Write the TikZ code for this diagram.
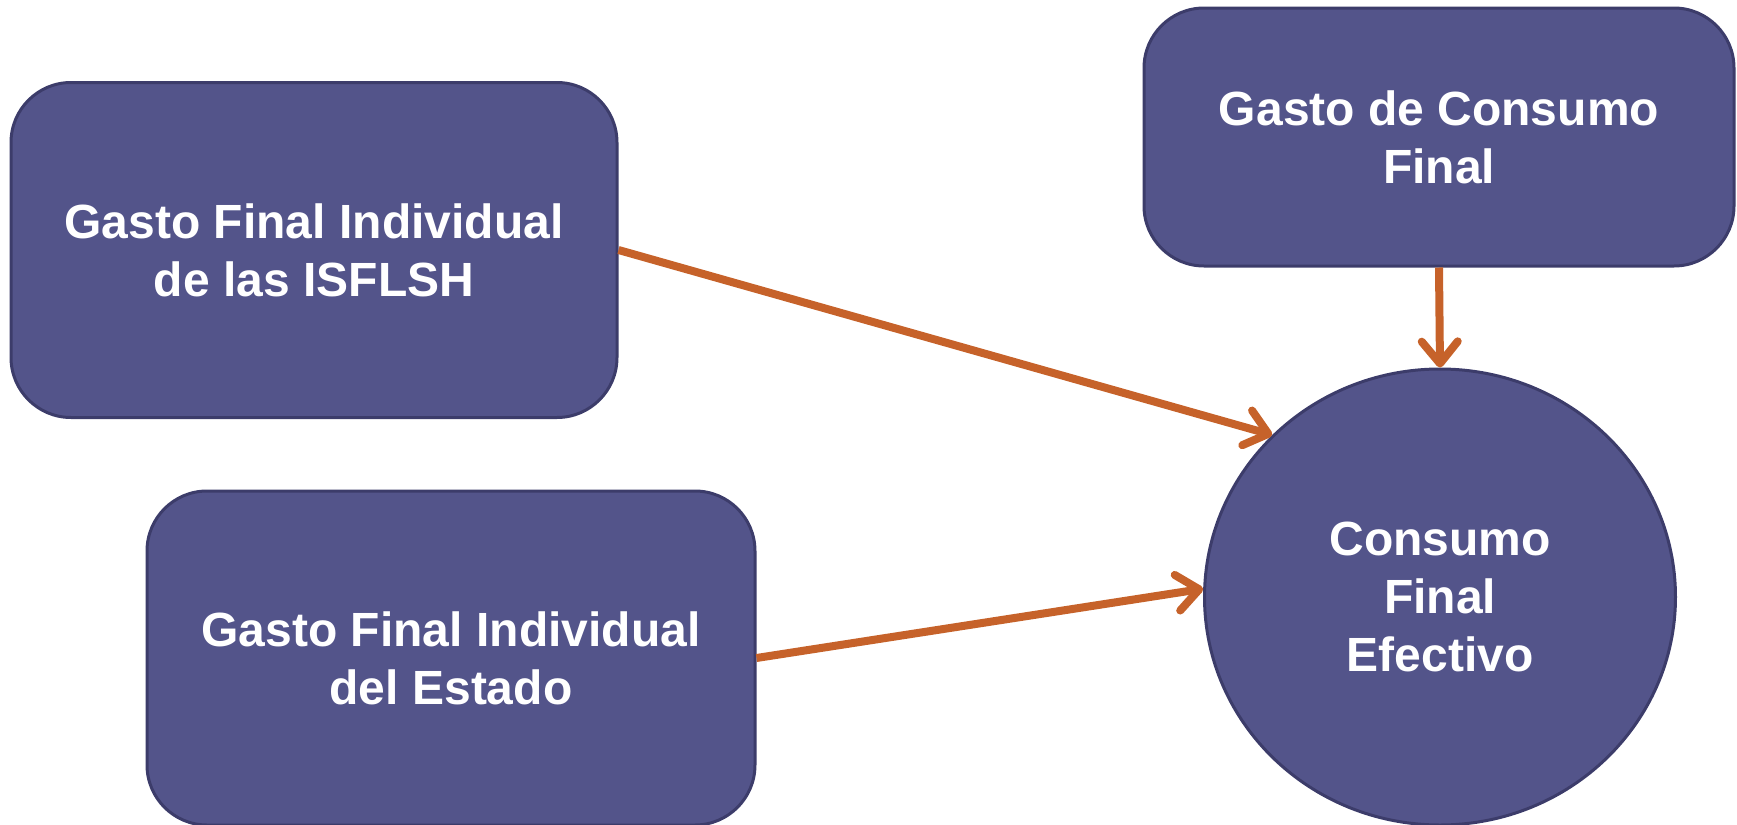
\documentclass[tikz,border=0pt]{standalone}
\usepackage{fontspec}
\setmainfont{Liberation Sans}
\usetikzlibrary{shapes.geometric,arrows.meta}
\definecolor{boxfill}{HTML}{53548A}
\definecolor{boxline}{HTML}{3C3C6A}
\definecolor{arrowclr}{HTML}{C6622A}

\begin{document}
\begin{tikzpicture}[x=0.5pt, y=-0.5pt,
gasto/.style={draw=boxline, line width=1.5pt, fill=boxfill, rounded corners=30pt,
    text=white, font=\bfseries\fontsize{24}{29}\selectfont, align=center, inner sep=0pt},
consumo/.style={gasto, ellipse, rounded corners=0pt},
flow/.style={draw=arrowclr, line width=4pt,
    -{Straight Barb[length=11pt, width=18pt, line cap=round, line join=round]}}]
\useasboundingbox (0,0) rectangle (1737,825);
% nodes
\node[gasto, minimum width=303pt, minimum height=167.5pt] (isflsh) at (314,250)
    {Gasto Final Individual\\de las ISFLSH};
\node[gasto, minimum width=304pt, minimum height=167pt] (estado) at (451,658)
    {Gasto Final Individual\\del Estado};
\node[gasto, minimum width=295pt, minimum height=129pt] (gcf) at (1439,137)
    {Gasto de Consumo\\Final};
\node[consumo, minimum width=235.5pt, minimum height=228pt] (cfe) at (1440,597)
    {Consumo\\Final\\Efectivo};
% connectors
\draw[flow] (isflsh.east) -- (cfe.136);
\draw[flow] (estado.east) -- (cfe.178);
\draw[flow] (gcf.south) -- (cfe.north);
\end{tikzpicture}
\end{document}
